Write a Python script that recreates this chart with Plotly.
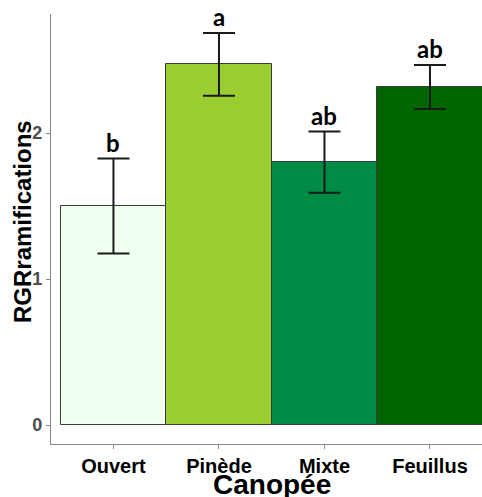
import plotly.graph_objects as go

# Data
canopee = ['Ouvert', 'Pinède', 'Mixte', 'Feuillus']
rgr_moyenne = [1.50, 2.47, 1.80, 2.315]
rgr_erreur = [0.325, 0.215, 0.21, 0.15]
lettres = ['b', 'a', 'ab', 'ab']
couleurs = ['#F0FFF0', '#9ACD32', '#008B45', '#006400']

W, H = 482, 497
L, R, T, B = 51, 0, 14, 53
pw, ph = W - L - R, H - T - B

fig = go.Figure()
fig.add_trace(go.Bar(x=canopee, y=rgr_moyenne, width=1,
                     marker=dict(color=couleurs, line=dict(color='#3a3a3a', width=1)),
                     error_y=dict(type='data', array=rgr_erreur, color='#1a1a1a',
                                  thickness=2, width=16),
                     showlegend=False))

for c, m, e, lab in zip(canopee, rgr_moyenne, rgr_erreur, lettres):
    fig.add_annotation(x=c, y=m + e, text='<b>' + lab + '</b>', showarrow=False,
                       yanchor='bottom', yshift=0,
                       font=dict(family='Lato', size=24, color='black'))

# axis titles
fig.add_annotation(xref='paper', yref='paper', x=(22 - L) / pw, y=(H - B - 222) / ph,
                   text='<b>RGRramifications</b>', textangle=-90, showarrow=False,
                   xanchor='center', yanchor='middle',
                   font=dict(family='Liberation Sans', size=24, color='black'))
fig.add_annotation(xref='paper', yref='paper', x=(272 - L) / pw, y=(H - B - 484) / ph,
                   text='<b>Canopée</b>', showarrow=False,
                   xanchor='center', yanchor='middle',
                   font=dict(family='Liberation Sans', size=28, color='black'))

fig.update_xaxes(range=[-0.592, 3.493], showline=True, linecolor='#8a8a8a', linewidth=1.3,
                 ticks='outside', ticklen=4, tickcolor='#8a8a8a', showgrid=False,
                 automargin=False,
                 tickfont=dict(family='Liberation Sans', size=20, color='black', weight='bold'))
fig.update_yaxes(range=[-0.130, 2.815], showline=True, linecolor='#8a8a8a', linewidth=1.3,
                 ticks='outside', ticklen=4, tickcolor='#8a8a8a', showgrid=False,
                 zeroline=False, tickvals=[0, 1, 2], automargin=False,
                 tickfont=dict(family='Liberation Sans', size=18, color='#4D4D4D', weight='bold'))

fig.update_layout(width=W, height=H, margin=dict(l=L, r=R, t=T, b=B),
                  plot_bgcolor='white', paper_bgcolor='white', bargap=0)

# the page body has a default 8px margin; remove it so the figure fills the window
fig.write_html('out.html', config={'displayModeBar': False},
               post_script="document.body.style.margin='0';")
